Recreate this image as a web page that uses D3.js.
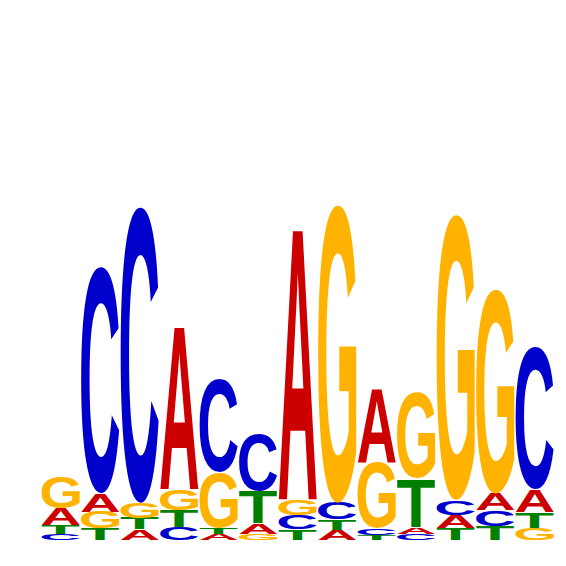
<!DOCTYPE html>
<html>
<head>
<meta charset="utf-8">
<script src="https://cdn.jsdelivr.net/npm/d3@7"></script>
<style>
html, body { margin: 0; padding: 0; background: #fff; }
svg { display: block; }
</style>
</head>
<body>
<svg id="chart" width="566" height="566"></svg>
<script>
// Sequence logo data (heights in bits)
const positions = [1,2,3,4,5,6,7,8,9,10,11,12,13];
const letters = ["A","C","G","T"];
const heightA = [0.064,0.069,0.040,0.610,0.022,0.040,1.020,0.038,0.277,0.025,0.050,0.062,0.084];
const heightC = [0.022,0.847,1.106,0.050,0.350,0.212,0.053,0.062,0.025,0.024,0.056,0.060,0.533];
const heightG = [0.118,0.062,0.058,0.077,0.206,0.022,0.059,1.113,0.244,0.320,1.067,0.763,0.046];
const heightT = [0.033,0.044,0.041,0.062,0.024,0.122,0.040,0.039,0.019,0.181,0.044,0.052,0.060];
const letterColors = {A:"#CC0000", C:"#0000CC", G:"#FFB300", T:"#008000"};

const svg = d3.select("#chart");
const x = d3.scaleBand().domain(positions).range([41, 554.5]).paddingInner(0).paddingOuter(0);
const y = d3.scaleLinear().domain([0, 2]).range([540, 5]);

const series = {A: heightA, C: heightC, G: heightG, T: heightT};

// measure glyph ink bounds
const FONT_SIZE = 100;
const FONT = "bold " + FONT_SIZE + "px 'Liberation Sans', Arial, Helvetica, sans-serif";
const canvas = document.createElement("canvas");
const ctx = canvas.getContext("2d");
ctx.font = FONT;
const metrics = {};
letters.forEach(l => {
  const m = ctx.measureText(l);
  metrics[l] = {
    left: m.actualBoundingBoxLeft,
    right: m.actualBoundingBoxRight,
    ascent: m.actualBoundingBoxAscent,
    descent: m.actualBoundingBoxDescent
  };
});

const stacks = positions.map((p, i) => {
  const items = letters.map(l => ({letter: l, h: series[l][i]}))
    .sort((a, b) => a.h - b.h);
  let base = 0;
  return items.map(it => {
    const r = {pos: p, letter: it.letter, y0: base, y1: base + it.h};
    base += it.h;
    return r;
  });
}).flat();

const inset = 0.6;
svg.append("g").selectAll("text")
  .data(stacks)
  .join("text")
  .text(d => d.letter)
  .attr("fill", d => letterColors[d.letter])
  .style("font", FONT)
  .attr("transform", d => {
    const m = metrics[d.letter];
    const inkW = m.left + m.right;
    const inkH = m.ascent + m.descent;
    const x0 = x(d.pos) + inset;
    const w = x.bandwidth() - 2 * inset;
    const top = y(d.y1);
    const h = y(d.y0) - y(d.y1);
    const sx = w / inkW, sy = h / inkH;
    return `translate(${x0},${top}) scale(${sx},${sy}) translate(${m.left},${m.ascent})`;
  });
</script>
</body>
</html>
